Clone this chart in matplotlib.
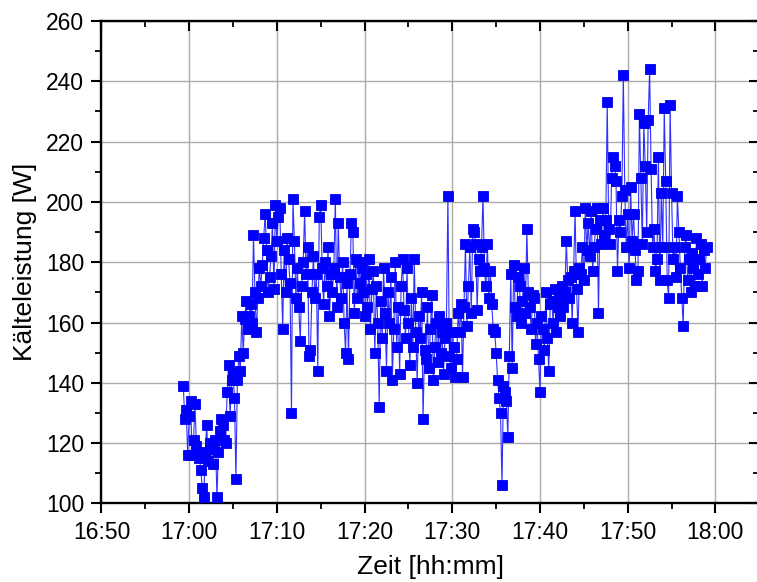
import pandas as pd
import matplotlib
matplotlib.use('Agg')
import matplotlib.pyplot as plt
import matplotlib.dates as mdates
from matplotlib.ticker import MultipleLocator

plt.rcParams['font.family'] = ['Liberation Sans', 'DejaVu Sans']

# Messwerte Kälteleistung [W], alle 10 s ab 16:59:20 (eine Zeile = 1 min)
leistung_1700 = [
    139, 128, 131, 116, 129, 134,
    116, 121, 133, 119, 116, 115,
    111, 105, 102, 117, 126, 114,
    120, 118, 113, 119, 121, 102,
    117, 124, 128, 126, 121, 120,
    137, 146, 129, 141, 143, 135,
    108, 141, 149, 144, 162, 150,
    161, 167, 158, 162, 166, 160,
    189, 170, 157, 168, 178, 172,
    179, 188, 196, 184, 170, 175,
]
leistung_1710 = [
    182, 193, 171, 199, 187, 195,
    198, 176, 158, 184, 170, 188,
    181, 173, 130, 201, 187, 168,
    178, 165, 154, 172, 180, 197,
    176, 185, 149, 151, 170, 182,
    168, 176, 144, 195, 199, 178,
    166, 180, 172, 185, 162, 176,
    170, 178, 201, 165, 193, 175,
    168, 180, 160, 150, 173, 148,
    176, 193, 190, 163, 181, 168,
]
leistung_1720 = [
    180, 173, 178, 170, 162, 176,
    165, 181, 158, 171, 177, 150,
    172, 160, 132, 167, 155, 178,
    163, 144, 170, 160, 175, 141,
    158, 180, 152, 165, 143, 172,
    181, 164, 155, 178, 160, 146,
    168, 152, 181, 157, 140, 162,
    155, 170, 128, 151, 148, 165,
    145, 158, 169, 141, 152, 160,
    147, 162, 150, 157, 143, 155,
]
leistung_1730 = [
    160, 202, 149, 145, 157, 152,
    142, 148, 163, 157, 166, 142,
    165, 186, 159, 172, 185, 163,
    191, 190, 186, 164, 181, 177,
    185, 202, 178, 172, 186, 168,
    177, 166, 158, 157, 150, 141,
    135, 130, 106, 139, 137, 134,
    122, 149, 176, 145, 179, 165,
    162, 175, 172, 160, 167, 178,
    163, 191, 170, 165, 158, 169,
]
leistung_1740 = [
    168, 153, 160, 148, 137, 162,
    158, 151, 170, 155, 144, 166,
    167, 160, 171, 157, 165, 168,
    162, 172, 165, 170, 187, 174,
    168, 175, 160, 177, 197, 171,
    157, 178, 176, 185, 174, 198,
    184, 193, 182, 197, 177, 185,
    191, 198, 163, 194, 186, 198,
    189, 194, 233, 191, 186, 208,
    215, 212, 207, 177, 194, 190,
]
leistung_1750 = [
    202, 242, 204, 185, 196, 178,
    205, 187, 196, 184, 174, 177,
    229, 208, 186, 226, 212, 190,
    227, 244, 211, 185, 191, 177,
    181, 215, 174, 203, 185, 231,
    207, 174, 168, 232, 203, 181,
    185, 175, 202, 190, 178, 168,
    159, 185, 189, 174, 181, 170,
    183, 178, 172, 188, 176, 181,
    186, 172, 184, 178, 185,
]

leistung = (leistung_1700 + leistung_1710 + leistung_1720
            + leistung_1730 + leistung_1740 + leistung_1750)
zeit = pd.date_range('2000-01-01 16:59:20', periods=len(leistung), freq='10s')

fig = plt.figure(figsize=(7.57, 5.82), dpi=100)
ax = fig.add_axes([0.1340, 0.135, 0.8690, 0.829])

ax.plot(zeit, leistung, color='#3030ff', linewidth=0.8, marker='s',
        markersize=7.5, markerfacecolor='#0000ff', markeredgecolor='#0000e6',
        markeredgewidth=0.6, zorder=3)

ax.set_xlim(pd.Timestamp('2000-01-01 16:50'), pd.Timestamp('2000-01-01 18:05'))
ax.set_ylim(100, 260)

ax.xaxis.set_major_locator(mdates.MinuteLocator(byminute=range(0, 60, 10)))
ax.xaxis.set_minor_locator(mdates.MinuteLocator(byminute=range(5, 60, 10)))
ax.xaxis.set_major_formatter(mdates.DateFormatter('%H:%M'))
ax.yaxis.set_major_locator(MultipleLocator(20))
ax.yaxis.set_minor_locator(MultipleLocator(10))

ax.grid(True, which='major', color='#aaaaaa', linewidth=1.0, zorder=0)
ax.set_axisbelow(True)

for s in ax.spines.values():
    s.set_linewidth(1.7)

ax.tick_params(axis='both', which='major', labelsize=16.5, length=7.5, width=1.5,
               direction='out', pad=5)
ax.tick_params(axis='both', which='minor', length=4.3, width=1.3, direction='out')
ax.tick_params(axis='x', which='both', top=True)
ax.tick_params(axis='y', which='both', right=True)

ax.set_xlabel('Zeit [hh:mm]', fontsize=19, labelpad=8)
ax.set_ylabel('Kälteleistung [W]', fontsize=19, labelpad=6)

# Origin-Stil: Ticks oben/rechts nach innen
for t in ax.xaxis.get_major_ticks() + ax.xaxis.get_minor_ticks():
    t.tick2line.set_marker(matplotlib.lines.TICKDOWN)
for t in ax.yaxis.get_major_ticks() + ax.yaxis.get_minor_ticks():
    t.tick2line.set_marker(matplotlib.lines.TICKLEFT)

fig.savefig('out.png', dpi=100)
